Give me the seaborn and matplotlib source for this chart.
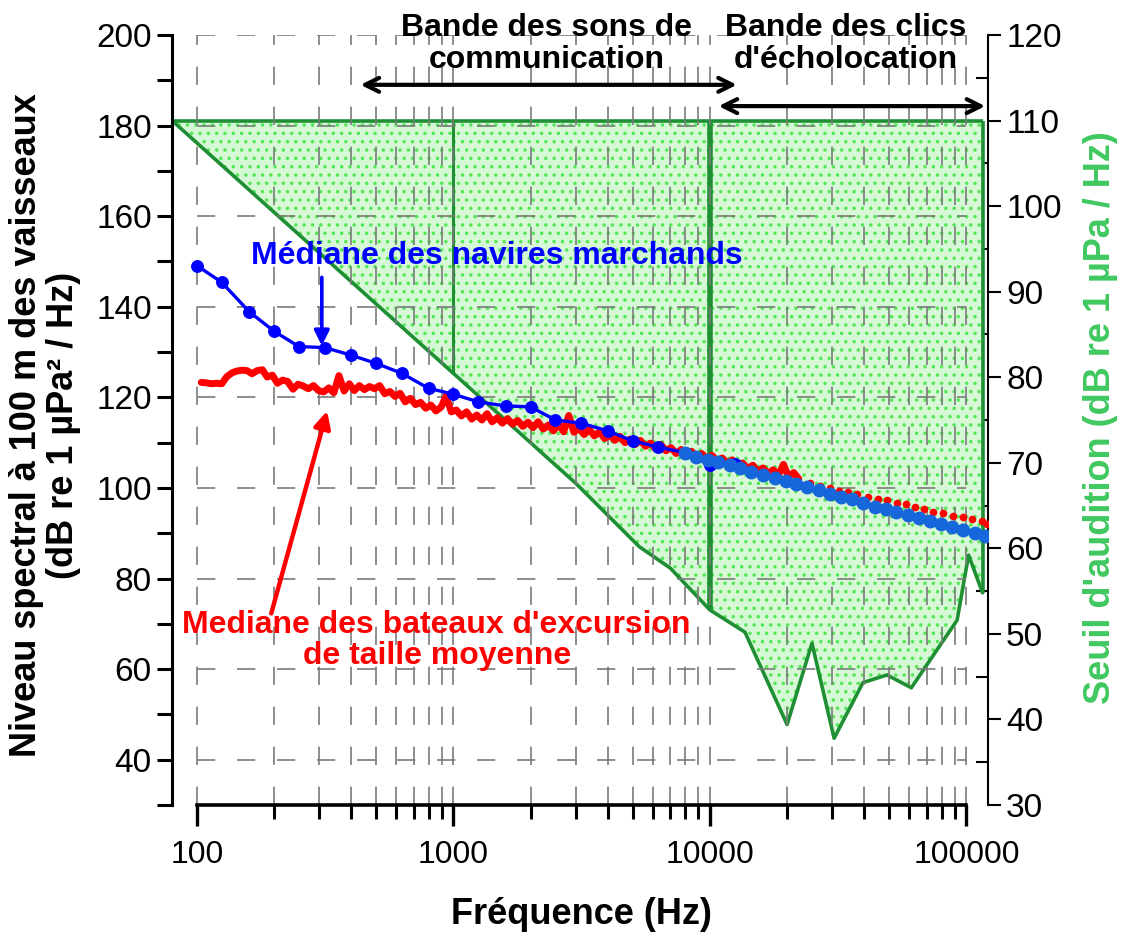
import numpy as np
import matplotlib
matplotlib.use('Agg')
import matplotlib.pyplot as plt
import seaborn as sns

sns.set_style('white')
plt.rcParams['font.family'] = ['Liberation Sans', 'DejaVu Sans']
plt.rcParams['hatch.linewidth'] = 1.3
for key in ['text.color', 'axes.labelcolor', 'xtick.color', 'ytick.color', 'axes.edgecolor']:
    plt.rcParams[key] = 'black'

# median of merchant ships (1/3 octave bands, solid line)
ship_freq = [100, 125, 160, 200, 250, 315, 400, 500, 630, 800, 1000, 1250,
             1600, 2000, 2500, 3150, 4000, 5000, 6300, 8000, 10000, 12500]
ship_level = [149.1, 145.4, 138.9, 134.6, 131.2, 131.0, 129.3, 127.5, 125.3, 122.0, 120.7, 119.0,
              118.1, 117.9, 115.0, 114.3, 112.6, 110.4, 109.0, 107.8, 105.1, 105.3]

# merchant ships, extrapolated part (dots)
ship_ext_freq = [7980, 8860, 9830, 10760, 11950, 13140, 14510, 16110, 17900, 19740,
                 21720, 23970, 26610, 29300, 32530, 35790, 39510, 43880, 48410, 53290,
                 59170, 65300, 71900, 79800, 88100, 96900, 107600, 117700]
ship_ext_level = [107.8, 106.8, 106.2, 105.8, 105.1, 104.3, 103.6, 102.8, 102.1, 101.5,
                  100.8, 100.2, 99.5, 98.7, 98.1, 97.5, 96.7, 95.9, 95.3, 94.7,
                  94.0, 93.3, 92.6, 92.0, 91.4, 90.7, 90.0, 89.3]

# median of mid-size excursion boats (measured spectrum)
boat_freq = [104, 109, 114, 119, 125, 131, 137, 143, 150, 157,
             164, 172, 180, 188, 197, 206, 216, 226, 237, 248,
             260, 272, 285, 298, 312, 327, 342, 358, 375, 393,
             411, 430, 450, 471, 493, 516, 540, 566, 592, 620,
             649, 680, 712, 745, 780, 817, 855, 895, 937, 981,
             1027, 1075, 1126, 1179, 1234, 1292, 1353, 1416, 1483, 1552,
             1625, 1702, 1781, 1865, 1953, 2044, 2140, 2241, 2346, 2456,
             2571, 2692, 2818, 2951, 3089, 3234, 3386, 3545, 3712, 3886,
             4068, 4259, 4459, 4669, 4888, 5117, 5358, 5609, 5872, 6148,
             6437, 6739, 7055, 7386, 7733, 8096, 8476, 8874, 9290, 9727,
             10183, 10661, 11162, 11686, 12235, 12809, 13411, 14040, 14700, 15390,
             16112, 16869, 17661, 18490, 19358, 20267, 21219, 22215]
boat_level = [123.3, 123.2, 123.0, 123.1, 123.0, 124.6, 125.4, 125.8, 126.0, 125.9,
              125.2, 125.9, 126.1, 124.5, 124.9, 123.1, 123.8, 123.5, 121.8, 122.9,
              122.5, 121.9, 122.6, 121.5, 121.2, 122.1, 121.0, 124.8, 121.4, 123.0,
              121.5, 122.6, 121.7, 122.4, 121.9, 122.6, 120.8, 121.3, 120.2, 120.9,
              119.0, 119.8, 118.4, 118.9, 117.6, 118.3, 117.0, 117.8, 120.3, 116.8,
              117.2, 115.9, 116.8, 115.2, 116.1, 115.0, 116.4, 114.6, 115.5, 114.3,
              115.3, 114.1, 114.9, 113.6, 114.5, 113.3, 114.6, 113.0, 113.9, 112.6,
              114.2, 112.4, 116.0, 112.3, 113.2, 111.8, 112.9, 111.5, 112.4, 110.9,
              111.7, 110.5, 111.4, 110.0, 110.8, 109.6, 110.5, 109.2, 109.9, 108.6,
              109.6, 108.2, 108.9, 107.6, 108.5, 107.3, 108.1, 106.8, 107.6, 106.5,
              107.2, 106.0, 106.6, 105.5, 106.2, 104.9, 105.5, 104.3, 105.0, 103.7,
              104.4, 103.2, 104.0, 102.8, 105.2, 102.4, 103.4, 102.0]

# excursion boats, extrapolated part (small dots)
boat_ext_freq = [24500, 26800, 29300, 32000, 34700, 37600, 41200, 45100, 48900, 53500,
                 57900, 62800, 68100, 73800, 80700, 88300, 96600, 104700, 114600, 120000]
boat_ext_level = [101.2, 100.4, 99.9, 99.4, 99.2, 98.6, 98.1, 97.6, 97.3, 96.6,
                  96.4, 95.7, 95.3, 94.7, 94.4, 93.9, 93.5, 93.1, 92.8, 92.0]

# hearing threshold (right axis)
thr_freq = [80, 3000, 5300, 7000, 10000, 13700, 20000, 25000, 30500, 39500,
            49000, 61000, 92000, 102000, 115600]
thr_level = [110, 67.6, 60.2, 57.7, 52.8, 50.2, 39.4, 48.9, 37.8, 44.3,
             45.2, 43.7, 51.6, 59.2, 54.8]
thr_top = 110
band_edges = [1000, 10000]

x_major = [100, 1000, 10000, 100000]
x_labels = ['100', '1000', '10000', '100000']
x_minor = [k * 10 ** d for d in (2, 3, 4) for k in range(2, 10)]

blue = '#0000ff'
blue_dots = '#1666dc'
red = '#ff0000'
dark_green = '#1f8f34'
label_green = '#40c860'

W, H = 1123, 943
fig = plt.figure(figsize=(W / 100, H / 100), dpi=100)
ax = fig.add_axes([172 / W, 138 / H, 816 / W, 770 / H])
ax2 = ax.twinx()
ax.set_zorder(2)
ax2.set_zorder(1)
ax.patch.set_visible(False)

# ---- hearing threshold polygon on right axis
ax2.fill_between(thr_freq, thr_level, thr_top, facecolor='#d6f8d6', edgecolor='#55e655',
                 hatch='..', linewidth=0)
ax2.plot(thr_freq, thr_level, color=dark_green, lw=2.6)
ax2.hlines(thr_top, thr_freq[0], thr_freq[-1], color=dark_green, lw=2.6)
ax2.vlines(thr_freq[-1], thr_level[-1], thr_top, color=dark_green, lw=2.6)
band_floor = np.interp(np.log10(band_edges), np.log10(thr_freq), thr_level)
ax2.vlines(band_edges[0], band_floor[0], thr_top, color=dark_green, lw=2.2)
ax2.vlines(band_edges[1], band_floor[1], thr_top, color=dark_green, lw=4)

ax2.set_ylim(30, 120)
ax2.set_yticks(range(30, 121, 10))
ax2.set_yticks(range(35, 120, 10), minor=True)
ax2.tick_params(axis='y', which='major', direction='out', length=9, width=1.5,
                labelsize=24, pad=4, colors='black')
ax2.tick_params(axis='y', which='minor', direction='in', length=9, width=1.5, right=True)
for s in ['left', 'top', 'bottom']:
    ax2.spines[s].set_visible(False)
ax2.spines['right'].set_linewidth(1.5)
ax2.spines['right'].set_color('black')

# ---- grid
ax.set_xscale('log')
ax.set_xlim(80, 121400)
ax.set_ylim(30, 200)
ax.set_xticks(x_major, labels=x_labels)
ax.set_xticks(x_minor, minor=True)
ax.xaxis.set_minor_formatter(matplotlib.ticker.NullFormatter())
ax.grid(False)
for xv in x_major + x_minor:
    ax.axvline(xv, color='#7a7a7a', lw=1.2, ls=(0, (11, 13)), zorder=0)
ax.hlines(range(40, 201, 20), 100, 100000, color='#7a7a7a', lw=1.2, ls=(0, (11, 13)), zorder=0)

# ---- spectra
sns.lineplot(x=boat_freq, y=boat_level, ax=ax, color=red, lw=5, zorder=3)
sns.lineplot(x=ship_freq, y=ship_level, ax=ax, color=blue, lw=2.4, marker='o',
             markersize=8.5, markeredgecolor=blue, zorder=4)
ax.plot(boat_ext_freq, boat_ext_level, ls='none', marker='o', ms=4.5, color=red, zorder=3)
ax.plot(ship_ext_freq, ship_ext_level, ls='none', marker='o', ms=9, color=blue_dots, zorder=5)

ax.set_yticks(range(40, 201, 20))
ax.set_yticks(range(30, 200, 20), minor=True)
ax.tick_params(axis='y', which='both', direction='out', length=11, width=2.2,
               labelsize=24, left=True)
ax.tick_params(axis='x', which='major', direction='out', length=15, width=2.4,
               labelsize=23, pad=10, bottom=True)
ax.tick_params(axis='x', which='minor', direction='out', length=10, width=2.2, bottom=True)
ax.spines['top'].set_visible(False)
ax.spines['right'].set_visible(False)
ax.spines['left'].set_linewidth(2.2)
ax.spines['bottom'].set_linewidth(2.6)
ax.spines['bottom'].set_bounds(100, 100000)
ax.set_xlabel('')
ax.set_ylabel('')

# ---- annotations
arrow_style = '<->,head_length=1.0,head_width=0.5'
ax.annotate('', xy=(13060, 189.0), xytext=(424, 189.0),
            arrowprops=dict(arrowstyle=arrow_style, lw=3, color='black'))
ax.annotate('', xy=(121400, 184.3), xytext=(10550, 184.3),
            arrowprops=dict(arrowstyle=arrow_style, lw=3, color='black'),
            annotation_clip=False)
ax.text(2312, 198.0, 'Bande des sons de\ncommunication', ha='center', va='center',
        fontsize=23, fontweight='bold', linespacing=1.1)
ax.text(33800, 198.0, "Bande des clics\nd'écholocation", ha='center', va='center',
        fontsize=23, fontweight='bold', linespacing=1.1)

ax.text(1476, 151.2, 'Médiane des navires marchands', ha='center', va='center',
        fontsize=23, fontweight='bold', color=blue)
ax.annotate('', xy=(307, 131.4), xytext=(307, 146.5),
            arrowprops=dict(arrowstyle='-|>,head_length=0.9,head_width=0.45', lw=2.6,
                            color=blue, shrinkA=0, shrinkB=0))
ax.text(861, 66.4, "Mediane des bateaux d'excursion\nde taille moyenne", ha='center',
        va='center', fontsize=23, fontweight='bold', color=red, linespacing=1.05)
ax.annotate('', xy=(322, 117.0), xytext=(195, 72.3),
            arrowprops=dict(arrowstyle='-|>,head_length=1.0,head_width=0.5', lw=3.2,
                            color=red, shrinkA=0, shrinkB=0))

fig.text(45 / W, 1 - 425 / H, 'Niveau spectral à 100 m des vaisseaux\n(dB re 1 µPa² / Hz)',
         rotation=90, ha='center', va='center', fontsize=26, fontweight='bold',
         multialignment='center', linespacing=1.1)
fig.text(1100 / W, 1 - 418 / H, "Seuil d'audition (dB re 1 µPa / Hz)", rotation=90,
         ha='center', va='center', fontsize=26, fontweight='bold', color=label_green)
fig.text(581 / W, 1 - 915 / H, 'Fréquence (Hz)', ha='center', va='center',
         fontsize=26, fontweight='bold')

fig.savefig('out.png', dpi=100)
